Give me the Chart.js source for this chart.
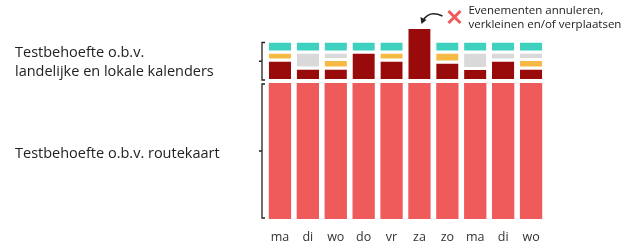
<!DOCTYPE html>
<html>
<head>
<meta charset="utf-8">
<style>
  html, body { margin: 0; padding: 0; background: #fff; }
  #wrap { width: 623px; height: 243px; position: relative; }
</style>
<script src="https://cdn.jsdelivr.net/npm/chart.js@4.4.1/dist/chart.umd.min.js"></script>
</head>
<body>
<div id="wrap"><canvas id="myChart"></canvas></div>
<script>
  // Days (two weeks + a bit)
  const days = ['ma', 'di', 'wo', 'do', 'vr', 'za', 'zo', 'ma', 'di', 'wo'];

  // Base test need from the roadmap
  const routekaart = [136, 136, 136, 136, 136, 136, 136, 136, 136, 136];
  // Test need from national / local calendars (stacked on top)
  const donkerrood = [21.5, 13.5, 13.5, 29.5, 21.5, 54, 19.5, 13, 21.5, 13.5];
  const geel = [8, 0, 8.5, 0, 8, 0, 10, 0, 0, 8.5];
  const grijs = [0, 16, 7.5, 0, 0, 0, 0, 16.5, 8, 7.5];
  const turquoise = [11, 11, 11, 11, 11, 0, 11, 11, 11, 11];

  const font = '"Open Sans", "DejaVu Sans", sans-serif';

  // Brackets, side labels and the note above "za"
  const extras = {
    id: 'extras',
    afterDraw(chart) {
      const c = chart.ctx;
      const y = chart.scales.y;
      const left = chart.chartArea.left;
      const bx = left - 4;
      const calTop = y.getPixelForValue(routekaart[0] + donkerrood[0] + geel[0] + grijs[0] + turquoise[0]);
      const calBot = y.getPixelForValue(routekaart[0]) - 3;
      const rtTop = y.getPixelForValue(routekaart[0]) + 1;
      const rtBot = y.getPixelForValue(0) - 1;

      c.save();
      c.strokeStyle = '#222';
      c.lineWidth = 1.3;
      function bracket(t, b) {
        const m = (t + b) / 2;
        c.beginPath();
        c.moveTo(bx + 3, t);
        c.lineTo(bx, t);
        c.lineTo(bx, b);
        c.lineTo(bx + 3, b);
        c.moveTo(bx, m);
        c.lineTo(bx - 3, m);
        c.stroke();
        return m;
      }
      const m1 = bracket(calTop, calBot);
      const m2 = bracket(rtTop, rtBot);

      c.fillStyle = '#222';
      c.font = '14.5px ' + font;
      c.textBaseline = 'middle';
      c.fillText('Testbehoefte o.b.v.', 15, m1 - 8);
      c.fillText('landelijke en lokale kalenders', 15, m1 + 11);
      c.fillText('Testbehoefte o.b.v. routekaart', 15, m2 + 3);

      // arrow pointing at the "za" bar
      const bar = chart.getDatasetMeta(1).data[5];
      const ax = bar.x + 2, ay = bar.y - 6;
      c.beginPath();
      c.moveTo(ax + 21, ay - 7);
      c.quadraticCurveTo(ax + 8, ay - 13, ax + 2, ay - 3);
      c.lineWidth = 1.6;
      c.stroke();
      c.beginPath();
      c.moveTo(ax, ay + 1);
      c.lineTo(ax - 1, ay - 6);
      c.lineTo(ax + 5, ay - 3);
      c.closePath();
      c.fill();

      // red cross
      const cx = ax + 33, cy = ay - 6;
      c.strokeStyle = '#ef5a5a';
      c.lineWidth = 3;
      c.beginPath();
      c.moveTo(cx - 6, cy - 6); c.lineTo(cx + 6, cy + 6);
      c.moveTo(cx + 6, cy - 6); c.lineTo(cx - 6, cy + 6);
      c.stroke();

      c.fillStyle = '#222';
      c.font = '11.5px ' + font;
      c.fillText('Evenementen annuleren,', cx + 14, 11);
      c.fillText('verkleinen en/of verplaatsen', cx + 14, 25);
      c.restore();
    }
  };

  const seg = (label, data, color, gap) => ({
    label, data,
    backgroundColor: color,
    borderColor: '#fff',
    borderWidth: { top: 0, left: 0, right: 0, bottom: gap },
    borderSkipped: false
  });

  const ctx = document.getElementById('myChart');
  const myChart = new Chart(ctx, {
    type: 'bar',
    data: {
      labels: days,
      datasets: [
        seg('Routekaart', routekaart, '#ef5a5a', 0),
        seg('Kalenders', donkerrood, '#990b0b', 4),
        seg('Geel', geel, '#f6b944', 3),
        seg('Grijs', grijs, '#d9d9d9', 3),
        seg('Turquoise', turquoise, '#3fd1bf', 3)
      ]
    },
    plugins: [extras],
    options: {
      responsive: true,
      maintainAspectRatio: false,
      animation: false,
      layout: { padding: { left: 266, right: 78, top: 20, bottom: 0 } },
      datasets: { bar: { barPercentage: 0.8, categoryPercentage: 1 } },
      scales: {
        x: {
          stacked: true,
          grid: { display: false, drawTicks: false },
          border: { display: false },
          ticks: { color: '#333', padding: 11, font: { family: font, size: 12.5 } },
          afterFit(scale) { scale.height = 24; }
        },
        y: { stacked: true, display: false, min: 0, max: 199 }
      },
      plugins: {
        legend: { display: false },
        tooltip: { enabled: false }
      }
    }
  });
</script>
</body>
</html>
